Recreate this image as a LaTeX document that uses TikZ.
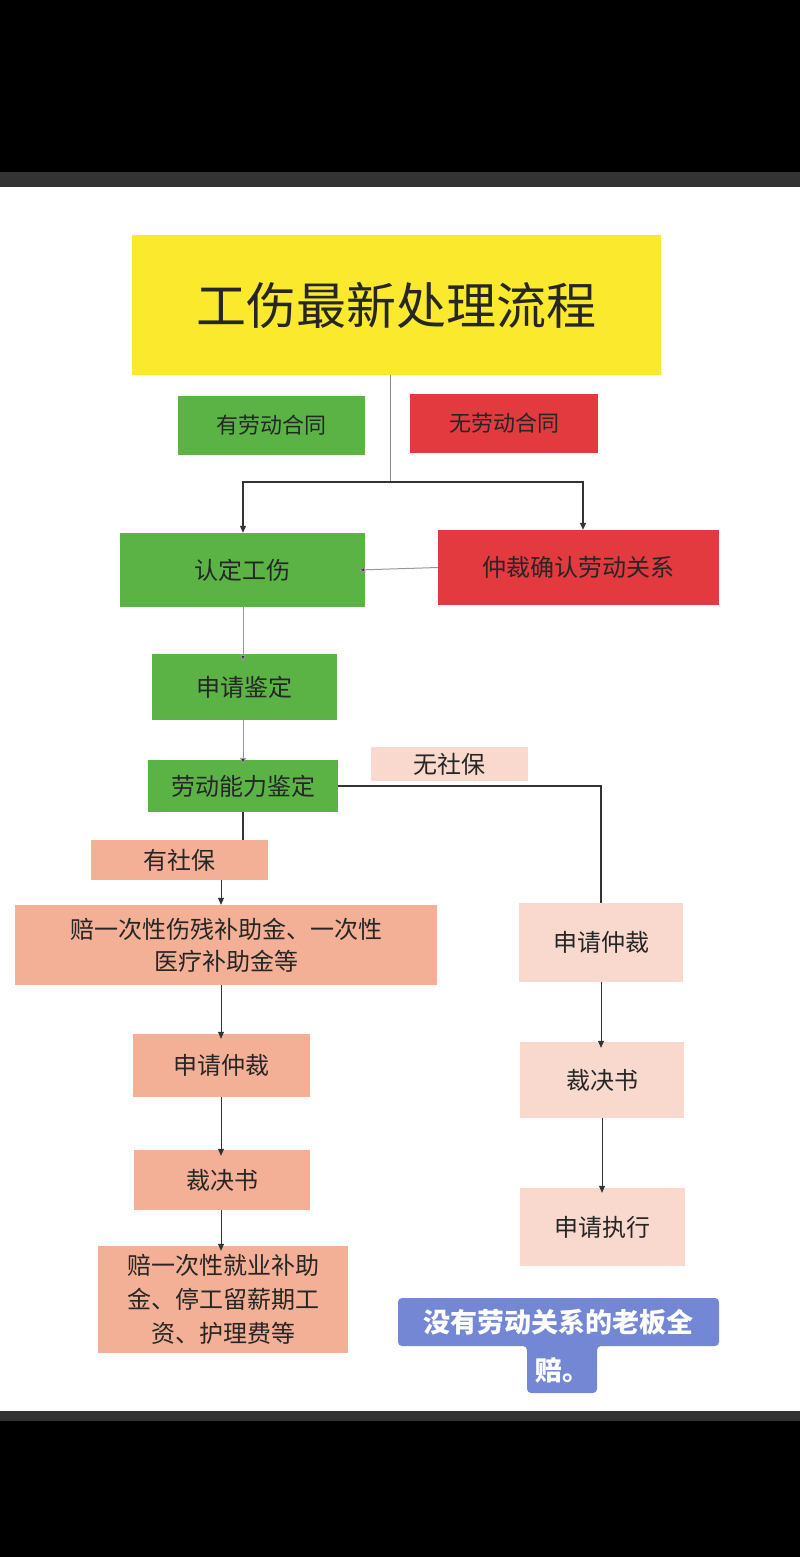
\documentclass[tikz,border=0pt]{standalone}
\usepackage{fontspec}
\newfontfamily\cjk{Noto Sans CJK SC}
\usetikzlibrary{arrows.meta}
\definecolor{ygl}{HTML}{FBE92E}
\definecolor{grn}{HTML}{5BB346}
\definecolor{rd}{HTML}{E23A3F}
\definecolor{sal}{HTML}{F4B096}
\definecolor{lpk}{HTML}{F9D9CD}
\definecolor{blu}{HTML}{7487D4}
\begin{document}
\begin{tikzpicture}[x=1pt,y=-1pt,
  box/.style={draw=none,inner sep=0pt,font=\cjk\fontsize{22}{28}\selectfont,text=black!85,align=center},
  con/.style={draw=black!80,line width=1.1pt},
  arr/.style={con,-{Triangle[length=7pt,width=6pt]}},
  garr/.style={draw=black!40,line width=1pt,-{Triangle[length=7pt,width=6pt,fill=black!80]}}]
\useasboundingbox (0,0) rectangle (800,1557);
\fill[black] (0,0) rectangle (800,1557);
\fill[white!20!black] (0,172) rectangle (800,187);
\fill[white!20!black] (0,1411) rectangle (800,1421);
\fill[white] (0,187) rectangle (800,1411);
% nodes
\node[box,fill=ygl,minimum width=529pt,minimum height=140pt,font=\cjk\fontsize{50}{60}\selectfont] (title) at (396.5,305) {工伤最新处理流程};
\node[box,fill=grn,minimum width=187pt,minimum height=59pt] (you) at (271.5,425.5) {有劳动合同};
\node[box,fill=rd,minimum width=188pt,minimum height=59pt] (wu) at (504,423.5) {无劳动合同};
\node[box,fill=grn,minimum width=245pt,minimum height=74pt,font=\cjk\fontsize{24}{30}\selectfont] (rd) at (242.5,570) {认定工伤};
\node[box,fill=rd,minimum width=281pt,minimum height=75pt,font=\cjk\fontsize{24}{30}\selectfont] (zc) at (578.5,567.5) {仲裁确认劳动关系};
\node[box,fill=grn,minimum width=185pt,minimum height=66pt,font=\cjk\fontsize{24}{30}\selectfont] (sq) at (244.5,687) {申请鉴定};
\node[box,fill=grn,minimum width=190pt,minimum height=52pt,font=\cjk\fontsize{24}{30}\selectfont] (ld) at (243,786) {劳动能力鉴定};
\node[box,fill=lpk,minimum width=157pt,minimum height=34pt,font=\cjk\fontsize{24}{30}\selectfont] (wsb) at (449.5,764) {无社保};
\node[box,fill=sal,minimum width=177pt,minimum height=40pt,font=\cjk\fontsize{24}{30}\selectfont] (ysb) at (179.5,860) {有社保};
\node[box,fill=sal,minimum width=422pt,minimum height=80pt,font=\cjk\fontsize{24}{32}\selectfont] (p1) at (226,945) {赔一次性伤残补助金、一次性\\医疗补助金等};
\node[box,fill=sal,minimum width=177pt,minimum height=63pt,font=\cjk\fontsize{24}{30}\selectfont] (zc1) at (221.5,1065.5) {申请仲裁};
\node[box,fill=sal,minimum width=176pt,minimum height=60pt,font=\cjk\fontsize{24}{30}\selectfont] (cj1) at (222,1180) {裁决书};
\node[box,fill=sal,minimum width=250pt,minimum height=107pt,font=\cjk\fontsize{24}{34}\selectfont] (p2) at (223,1299.5) {赔一次性就业补助\\金、停工留薪期工\\资、护理费等};
\node[box,fill=lpk,minimum width=164pt,minimum height=79pt,font=\cjk\fontsize{24}{30}\selectfont] (zc2) at (601,942.5) {申请仲裁};
\node[box,fill=lpk,minimum width=164pt,minimum height=76pt,font=\cjk\fontsize{24}{30}\selectfont] (cj2) at (602,1080) {裁决书};
\node[box,fill=lpk,minimum width=165pt,minimum height=78pt,font=\cjk\fontsize{24}{30}\selectfont] (zx) at (602.5,1227) {申请执行};
% blue note
\fill[blu,rounded corners=4pt] (398,1298) -- (719,1298) -- (719,1346) -- (597,1346) -- (597,1393) -- (527,1393) -- (527,1346) -- (398,1346) -- cycle;
\node[inner sep=0pt,text=white,font=\cjk\bfseries\fontsize{27}{30}\selectfont] (note) at (558.5,1322) {没有劳动关系的老板全};
\node[inner sep=0pt,text=white,font=\cjk\bfseries\fontsize{27}{30}\selectfont] (note2) at (562,1370) {赔。};
% connectors
\coordinate (j) at (390,482);
\draw[draw=black!45,line width=1pt] (title.south -| j) -- (j);
\draw[arr] (j) -| (rd.north -| 243,0);
\draw[arr] (j) -| (zc.north -| 583,0);
\draw[garr] (zc.west) -- ([xshift=-7pt]rd.east);
\draw[garr] (rd.south -| 243,0) -- ([yshift=-8pt]sq.north -| 243,0);
\draw[garr] (sq.south -| 243,0) -- ([yshift=-5pt]ld.north -| 243,0);
\draw[con] (ld.east) -| (zc2.north);
\draw[con] (ld.south -| 243,0) -- (ysb.north -| 243,0);
\draw[arr,line width=0.8pt] (ysb.south -| 221,0) -- (p1.north -| 221,0);
\draw[arr,line width=0.8pt] (p1.south -| 221,0) -- ([yshift=-5pt]zc1.north -| 221,0);
\draw[arr,line width=0.8pt] (zc1.south -| 221,0) -- ([yshift=-6pt]cj1.north -| 221,0);
\draw[arr,line width=0.8pt] (cj1.south -| 221,0) -- ([yshift=-5pt]p2.north -| 221,0);
\draw[arr,line width=0.8pt] (zc2.south) -- ([yshift=-6pt]cj2.north -| zc2.south);
\draw[arr,line width=0.8pt] (cj2.south) -- ([yshift=-5pt]zx.north -| cj2.south);
\end{tikzpicture}
\end{document}
